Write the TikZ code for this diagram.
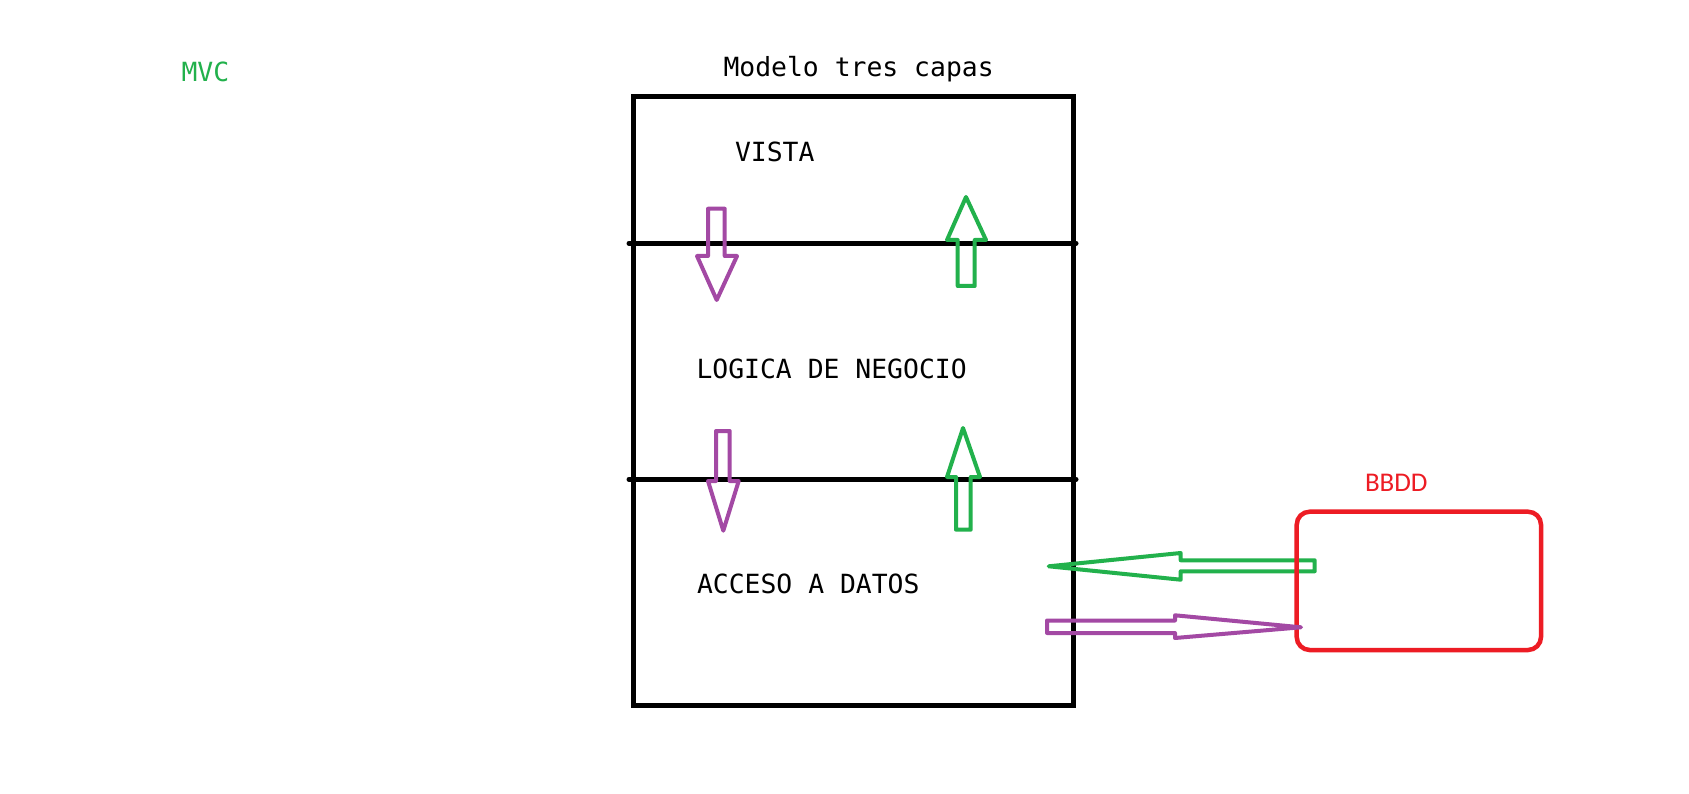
\documentclass[tikz,border=0pt]{standalone}
\usepackage{fontspec}
\setmonofont{DejaVu Sans Mono}
\newfontfamily\calibfont{Carlito}
\definecolor{paintpurple}{HTML}{A349A4}
\definecolor{paintgreen}{HTML}{22B14C}
\definecolor{paintred}{HTML}{ED1C24}
\tikzset{
  monotext/.style={inner sep=0pt, outer sep=0pt, anchor=base west, font=\ttfamily\fontsize{26.4}{30}\selectfont},
  layerline/.style={line width=5pt, line cap=round},
  purplearrow/.style={draw=paintpurple, line width=4pt, line join=round},
  greenarrow/.style={draw=paintgreen, line width=4pt, line join=round},
}
\begin{document}
\begin{tikzpicture}[x={(1pt,0)}, y={(0,-1pt)}]
\fill[white] (0,0) rectangle (1689,794);
\useasboundingbox (0,0) rectangle (1689,794);

% labels
\node[monotext, text=paintgreen] (mvc) at (181.5,81.5) {MVC};
\node[monotext] (title) at (723.5,76.7) {Modelo tres capas};
\node[monotext] (vista) at (735,161.7) {VISTA};
\node[monotext] (logica) at (696.5,378.3) {LOGICA DE NEGOCIO};
\node[monotext] (acceso) at (697,593.3) {ACCESO A DATOS};
\node[inner sep=0pt, outer sep=0pt, anchor=base west, text=paintred, font=\calibfont\fontsize{27}{30}\selectfont] (bbddlabel) at (1365,491.7) {BBDD};

% main box and layer separators
\draw[line width=5pt] (633.3,96.7) rectangle (1073.3,705);
\coordinate (l1a) at (629,243.3);
\coordinate (l1b) at (1076,243.3);
\coordinate (l2a) at (629,479.3);
\coordinate (l2b) at (1076,479.3);
\draw[layerline] (l1a) -- (l1b);
\draw[layerline] (l2a) -- (l2b);

% vertical arrows
\draw[purplearrow] (708,208.7) -- (724.7,208.7) -- (724.7,256) -- (737,256) -- (716.7,300) -- (697,256) -- (708,256) -- cycle;
\draw[greenarrow] (957.7,286) -- (974.7,286) -- (974.7,240) -- (986,240) -- (966,197) -- (947,240) -- (957.7,240) -- cycle;
\draw[purplearrow] (716,431) -- (729.7,431) -- (729.7,481) -- (738.7,481) -- (723.3,530.7) -- (708,481) -- (716,481) -- cycle;
\draw[greenarrow] (956,529.7) -- (970.7,529.7) -- (970.7,477) -- (980,477) -- (963,428) -- (947,477) -- (956,477) -- cycle;

% horizontal arrows and database box
\draw[greenarrow] (1048.7,566.3) -- (1180.7,553) -- (1180.7,560.3) -- (1314.7,560.3) -- (1314.7,571.3) -- (1180.7,571.3) -- (1180.7,579.7) -- cycle;
\draw[draw=paintred, line width=4.5pt, rounded corners=13pt] (1296.7,511.7) rectangle (1541,650);
\draw[purplearrow] (1047,620.5) -- (1175,620.5) -- (1175,615.3) -- (1301,627.3) -- (1175,638) -- (1175,633) -- (1047,633) -- cycle;
\end{tikzpicture}
\end{document}
